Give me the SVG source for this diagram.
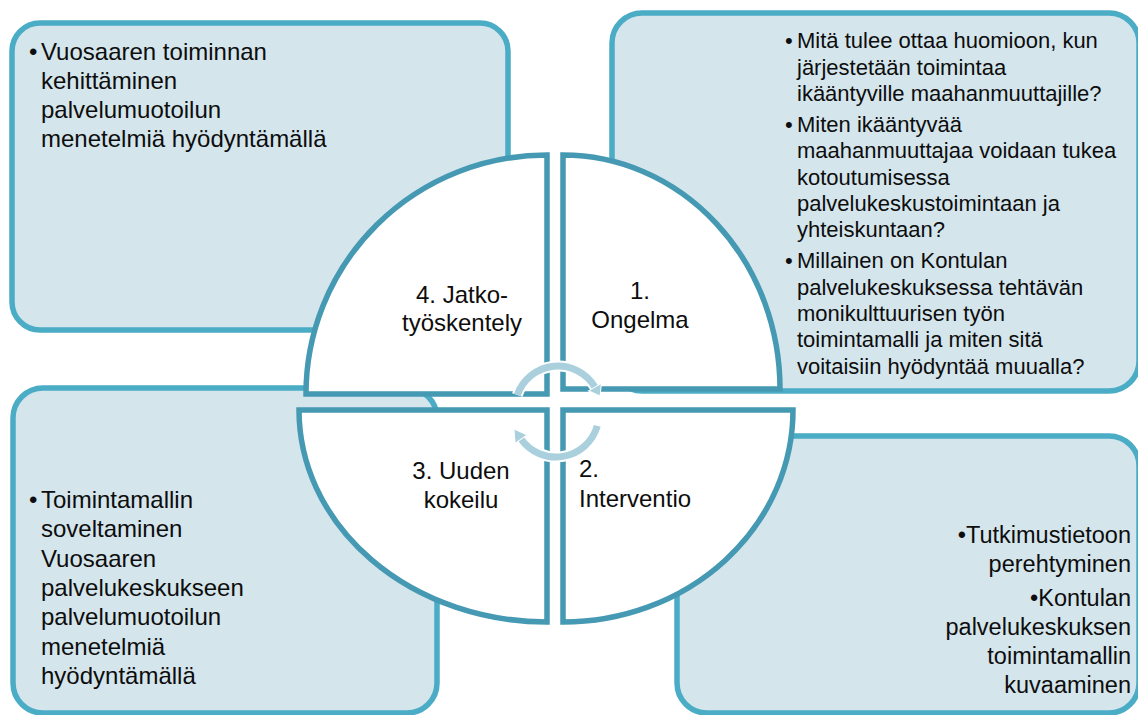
<svg xmlns="http://www.w3.org/2000/svg" width="1138" height="715" viewBox="0 0 1138 715">
  <style>
    .box { fill: #D4E5EC; stroke: #4BACC6; stroke-width: 5.5; }
    .quad { fill: #FFFFFF; stroke: #4599B3; stroke-width: 5.5; stroke-linejoin: miter; }
    .t { font-family: "Liberation Sans", Arial, sans-serif; fill: #0D0D0D; }
    .big { font-size: 24px; }
    .right { font-size: 23.5px; }
    .small { font-size: 22px; }
    .lbl { font-size: 24px; }
    .mid { text-anchor: middle; }
    .end { text-anchor: end; }
    .halo { fill: none; stroke: #FFFFFF; stroke-width: 11; }
    .shaft { fill: none; stroke: #A9D0DC; stroke-width: 7; }
    .head { fill: #A9D0DC; stroke: #FFFFFF; stroke-width: 2; paint-order: stroke; }
  </style>

  <!-- outer text panels -->
  <g id="panel-continuation">
    <rect class="box" x="12" y="23" width="496" height="307" rx="28" ry="28"/>
    <text class="t big" x="41" y="60"><tspan x="29">•</tspan><tspan x="41">Vuosaaren toiminnan</tspan></text>
    <text class="t big" x="41" y="89">kehittäminen</text>
    <text class="t big" x="41" y="118">palvelumuotoilun</text>
    <text class="t big" x="41" y="147">menetelmiä hyödyntämällä</text>
  </g>

  <g id="panel-problem">
    <rect class="box" x="612" y="13" width="527" height="378" rx="30" ry="30"/>
    <text class="t small" x="797" y="48"><tspan x="785">•</tspan><tspan x="797">Mitä tulee ottaa huomioon, kun</tspan></text>
    <text class="t small" x="797" y="74.5">järjestetään toimintaa</text>
    <text class="t small" x="797" y="101">ikääntyville maahanmuuttajille?</text>
    <text class="t small" x="797" y="132"><tspan x="785">•</tspan><tspan x="797">Miten ikääntyvää</tspan></text>
    <text class="t small" x="797" y="158">maahanmuuttajaa voidaan tukea</text>
    <text class="t small" x="797" y="184.5">kotoutumisessa</text>
    <text class="t small" x="797" y="211">palvelukeskustoimintaan ja</text>
    <text class="t small" x="797" y="237">yhteiskuntaan?</text>
    <text class="t small" x="797" y="268"><tspan x="785">•</tspan><tspan x="797">Millainen on Kontulan</tspan></text>
    <text class="t small" x="797" y="294.5">palvelukeskuksessa tehtävän</text>
    <text class="t small" x="797" y="321">monikulttuurisen työn</text>
    <text class="t small" x="797" y="347">toimintamalli ja miten sitä</text>
    <text class="t small" x="797" y="373.5">voitaisiin hyödyntää muualla?</text>
  </g>

  <g id="panel-trial">
    <rect class="box" x="13" y="388" width="424" height="325" rx="30" ry="30"/>
    <text class="t big" x="41" y="508"><tspan x="29">•</tspan><tspan x="41">Toimintamallin</tspan></text>
    <text class="t big" x="41" y="537">soveltaminen</text>
    <text class="t big" x="41" y="567">Vuosaaren</text>
    <text class="t big" x="41" y="596">palvelukeskukseen</text>
    <text class="t big" x="41" y="625">palvelumuotoilun</text>
    <text class="t big" x="41" y="655">menetelmiä</text>
    <text class="t big" x="41" y="684">hyödyntämällä</text>
  </g>

  <g id="panel-intervention">
    <rect class="box" x="677" y="436" width="462" height="277" rx="30" ry="30"/>
    <text class="t right end" x="1131" y="543">•Tutkimustietoon</text>
    <text class="t right end" x="1131" y="572">perehtyminen</text>
    <text class="t right end" x="1131" y="606">•Kontulan</text>
    <text class="t right end" x="1131" y="635">palvelukeskuksen</text>
    <text class="t right end" x="1131" y="664">toimintamallin</text>
    <text class="t right end" x="1131" y="693">kuvaaminen</text>
  </g>

  <!-- central cycle quadrants -->
  <g id="stage-4">
    <path class="quad" d="M 547,155 L 547,394 L 306,394 A 241,239 0 0 1 547,155 Z"/>
    <text class="t lbl mid" x="462" y="303">4. Jatko-</text>
    <text class="t lbl mid" x="462" y="331">työskentely</text>
  </g>

  <g id="stage-1">
    <path class="quad" d="M 563,155 A 217,234 0 0 1 780,389 L 563,389 Z"/>
    <text class="t lbl mid" x="640" y="299">1.</text>
    <text class="t lbl mid" x="640" y="328">Ongelma</text>
  </g>

  <g id="stage-2">
    <path class="quad" d="M 563,410 L 793,410 A 230,212 0 0 1 563,622 Z"/>
    <text class="t lbl" x="579" y="477">2.</text>
    <text class="t lbl" x="579" y="507">Interventio</text>
  </g>

  <g id="stage-3">
    <path class="quad" d="M 547,410 L 547,622 A 248,212 0 0 1 299,410 Z"/>
    <text class="t lbl mid" x="461" y="479">3. Uuden</text>
    <text class="t lbl mid" x="461" y="508">kokeilu</text>
  </g>

  <!-- circular arrows in the middle -->
  <g id="connectors">
    <path class="halo" d="M 517.3,395.0 A 43,43 0 0 1 595.2,387.5"/>
    <path class="halo" d="M 597.3,425.9 A 43,43 0 0 1 520.8,438.7"/>
    <path class="shaft" d="M 517.3,395.0 A 43,43 0 0 1 595.2,387.5"/>
    <polygon class="head" points="600.8,384.3 589.6,390.8 599.7,395.3"/>
    <path class="shaft" d="M 597.3,425.9 A 43,43 0 0 1 520.8,438.7"/>
    <polygon class="head" points="515.5,442.4 526.1,435.0 514.5,429.7"/>
  </g>
</svg>
